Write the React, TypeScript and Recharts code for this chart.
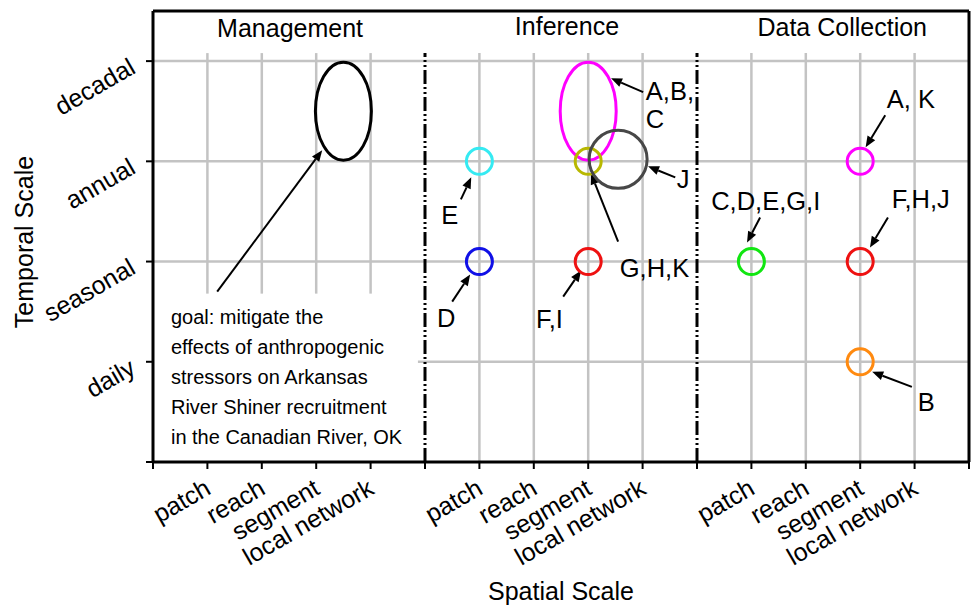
import React from "react"
import { ComposedChart, XAxis, YAxis, Scatter, ReferenceLine } from "recharts"

const FONT = '"Liberation Sans", Arial, sans-serif'

// category axes: three panels of five units each, categories at 1..4 inside each panel
const panelTitles = ["Management", "Inference", "Data Collection"]
const spatialLevels = ["patch", "reach", "segment", "local network"]
const temporalLevels = ["daily", "seasonal", "annual", "decadal"]
const xTicks = [0, 1, 2, 3, 4, 5, 6, 7, 8, 9, 10, 11, 12, 13, 14, 15]
const yTicks = [0, 1, 2, 3, 4]
const panelSeparators = [5, 10]

// panel titles (x centre, baseline y)
const titleX = [2.52, 7.61, 12.67]
const titleY = [4.24, 4.26, 4.25]

// circles (scale combos)
const circleX = [6, 8, 6, 8, 8.55, 11, 13, 13, 13]
const circleY = [3, 3, 2, 2, 3.02, 2, 3, 2, 1]
const circleR = [13, 13, 13, 13, 29, 13, 13, 13, 13]
const circleColor = ["#35eaf2", "#b8b800", "#1010e6", "#ee1111", "#474747", "#11e611", "#ff00ff", "#ee1111", "#ff8a10"]

// ellipses spanning one spatial and one temporal unit
const ellipseX = [3.5, 8]
const ellipseY = [3.5, 3.5]
const ellipseColor = ["#000000", "#ff00ff"]

// annotation labels (left, baseline)
const labelText = ["A,B,", "C", "E", "J", "G,H,K", "D", "F,I", "A, K", "C,D,E,G,I", "F,H,J", "B"]
const labelX = [9.06, 9.06, 5.3, 9.63, 8.58, 5.22, 7.04, 13.49, 10.26, 13.58, 14.06]
const labelY = [3.61, 3.33, 2.37, 2.73, 1.85, 1.35, 1.34, 3.53, 2.51, 2.53, 0.51]

// arrows: tail -> head
const arrowFrom = [[1.18, 1.7], [9.01, 3.69], [5.66, 2.62], [8.55, 2.2], [9.6, 2.84], [5.5, 1.6], [7.54, 1.65], [13.46, 3.46], [11.16, 2.44], [13.51, 2.44], [13.95, 0.75]]
const arrowTo = [[3.11, 3.11], [8.42, 3.83], [5.85, 2.84], [8.05, 2.88], [9.1, 2.95], [5.83, 1.87], [7.87, 1.91], [13.1, 3.14], [10.92, 2.19], [13.18, 2.14], [13.22, 0.9]]

const goalLines = [
  "goal: mitigate the",
  "effects of anthropogenic",
  "stressors on Arkansas",
  "River Shiner recruitment",
  "in the Canadian River, OK",
]
const goalX = 0.33
const goalY = 1.38

const gridTop = 4.08
const boxTop = 1.68

const circles = circleX.map((x, i) => ({ x, y: circleY[i], r: circleR[i], color: circleColor[i] }))
const ellipses = ellipseX.map((x, i) => ({ x, y: ellipseY[i], color: ellipseColor[i] }))
const labels = labelText.map((text, i) => ({ x: labelX[i], y: labelY[i], text }))
const titles = panelTitles.map((text, i) => ({ x: titleX[i], y: titleY[i], text }))

const Arrow = (props: any) => {
  const { x1, y1, x2, y2 } = props
  const a = Math.atan2(y2 - y1, x2 - x1)
  const L = 11
  const W = 4.5
  const bx = x2 - L * Math.cos(a)
  const by = y2 - L * Math.sin(a)
  const pts = `${x2},${y2} ${bx + W * Math.sin(a)},${by - W * Math.cos(a)} ${bx - W * Math.sin(a)},${by + W * Math.cos(a)}`
  return (
    <g>
      <line x1={x1} y1={y1} x2={bx} y2={by} stroke="#000" strokeWidth={2} />
      <polygon points={pts} fill="#000" />
    </g>
  )
}

const XTick = (props: any) => {
  const { x, y, payload } = props
  const v = payload.value
  if (v % 5 === 0) return null
  const name = spatialLevels[(v % 5) - 1]
  const tx = x + 5
  const ty = y + 22
  return (
    <text x={tx} y={ty} textAnchor="end" fontSize={25} fontFamily={FONT} fill="#000" transform={`rotate(-30, ${tx}, ${ty})`}>
      {name}
    </text>
  )
}

const YTick = (props: any) => {
  const { x, y, payload } = props
  const v = payload.value
  if (v === 0) return null
  const tx = x - 7
  const ty = y + 11
  return (
    <text x={tx} y={ty} textAnchor="end" fontSize={25} fontFamily={FONT} fill="#000" transform={`rotate(-30, ${tx}, ${ty})`}>
      {temporalLevels[v - 1]}
    </text>
  )
}

const gridStyle = { stroke: "#c3c3c3", strokeWidth: 2.5 }

export default function App() {
  return (
    <div style={{ position: "absolute", left: 0, top: 0, width: 975, height: 605, background: "#fff" }}>
      <ComposedChart width={975} height={605} margin={{ top: 0, right: 0, bottom: 83, left: 93 }}>
        <XAxis
          xAxisId={0}
          dataKey="x"
          type="number"
          domain={[0, 15]}
          ticks={xTicks}
          interval={0}
          height={60}
          axisLine={{ stroke: "#000", strokeWidth: 3 }}
          tickLine={{ stroke: "#000", strokeWidth: 2 }}
          tickSize={7}
          tick={<XTick />}
          label={{
            content: (p: any) => (
              <text x={p.viewBox.x + p.viewBox.width / 2} y={p.viewBox.y + 138} textAnchor="middle" fontSize={25} fontFamily={FONT} fill="#000">
                Spatial Scale
              </text>
            ),
          }}
        />
        <XAxis
          xAxisId="top"
          orientation="top"
          type="number"
          domain={[0, 15]}
          ticks={xTicks}
          interval={0}
          height={11}
          axisLine={{ stroke: "#000", strokeWidth: 3 }}
          tickLine={{ stroke: "#000", strokeWidth: 2 }}
          tickSize={7}
          tickFormatter={() => ""}
        />
        <YAxis
          yAxisId={0}
          dataKey="y"
          type="number"
          domain={[0, 4.5]}
          ticks={yTicks}
          interval={0}
          width={60}
          axisLine={{ stroke: "#000", strokeWidth: 3 }}
          tickLine={{ stroke: "#000", strokeWidth: 2 }}
          tickSize={7}
          tick={<YTick />}
          label={{
            content: (p: any) => {
              const tx = p.viewBox.x - 60
              const ty = p.viewBox.y + 231
              return (
                <text x={tx} y={ty} textAnchor="middle" fontSize={25} fontFamily={FONT} fill="#000" transform={`rotate(-90, ${tx}, ${ty})`}>
                  Temporal Scale
                </text>
              )
            },
          }}
        />
        <YAxis
          yAxisId="right"
          orientation="right"
          type="number"
          domain={[0, 4.5]}
          ticks={yTicks}
          interval={0}
          width={6}
          axisLine={{ stroke: "#000", strokeWidth: 3 }}
          tickLine={{ stroke: "#000", strokeWidth: 2 }}
          tickSize={7}
          tickFormatter={() => ""}
        />

        {/* grid */}
        {xTicks
          .filter((v) => v % 5 !== 0)
          .map((v) => (
            <ReferenceLine
              key={`vg${v}`}
              segment={[{ x: v, y: v < 5 ? boxTop : 0 }, { x: v, y: gridTop }]}
              {...gridStyle}
            />
          ))}
        {yTicks
          .filter((v) => v > 0)
          .map((v) => (
            <ReferenceLine
              key={`hg${v}`}
              segment={[{ x: v === 1 ? 4.87 : 0, y: v }, { x: 15, y: v }]}
              {...gridStyle}
            />
          ))}
        {panelSeparators.map((v) => (
          <ReferenceLine
            key={`sep${v}`}
            segment={[{ x: v, y: 0 }, { x: v, y: gridTop }]}
            stroke="#000"
            strokeWidth={3}
            strokeDasharray="14 3 2 3 2 3"
          />
        ))}

        {/* arrows */}
        {arrowFrom.map((f, i) => (
          <ReferenceLine
            key={`ar${i}`}
            segment={[{ x: f[0], y: f[1] }, { x: arrowTo[i][0], y: arrowTo[i][1] }]}
            shape={<Arrow />}
          />
        ))}

        <Scatter
          data={ellipses}
          isAnimationActive={false}
          legendType="none"
          shape={(p: any) => (
            <ellipse cx={p.cx} cy={p.cy} rx={28} ry={49} fill="none" stroke={p.payload.color} strokeWidth={3} />
          )}
        />
        <Scatter
          data={circles}
          isAnimationActive={false}
          legendType="none"
          shape={(p: any) => (
            <circle cx={p.cx} cy={p.cy} r={p.payload.r} fill="none" stroke={p.payload.color} strokeWidth={3} />
          )}
        />
        <Scatter
          data={labels}
          isAnimationActive={false}
          legendType="none"
          shape={(p: any) => (
            <text x={p.cx} y={p.cy} fontSize={25.5} fontFamily={FONT} fill="#000">
              {p.payload.text}
            </text>
          )}
        />
        <Scatter
          data={titles}
          isAnimationActive={false}
          legendType="none"
          shape={(p: any) => (
            <text x={p.cx} y={p.cy} textAnchor="middle" fontSize={25} fontFamily={FONT} fill="#000">
              {p.payload.text}
            </text>
          )}
        />
        <Scatter
          data={[{ x: goalX, y: goalY }]}
          isAnimationActive={false}
          legendType="none"
          shape={(p: any) => (
            <text x={p.cx} y={p.cy} fontSize={20} fontFamily={FONT} fill="#000">
              {goalLines.map((l, i) => (
                <tspan key={i} x={p.cx} dy={i === 0 ? 0 : 30}>
                  {l}
                </tspan>
              ))}
            </text>
          )}
        />
      </ComposedChart>
    </div>
  )
}
